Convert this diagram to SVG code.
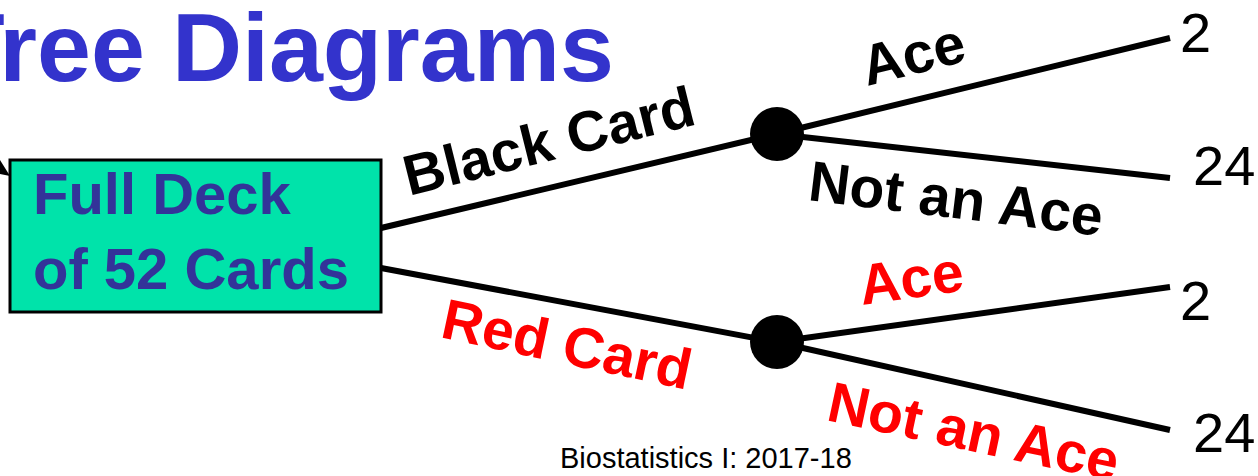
<svg xmlns="http://www.w3.org/2000/svg" width="1258" height="476" viewBox="0 0 1258 476">
<style>
.title{font-family:"Liberation Sans",Arial,sans-serif;font-weight:bold;font-size:97px;fill:#3333CC}
.box{fill:#00E3AA;stroke:#000;stroke-width:3}
.boxt{font-family:"Liberation Sans",Arial,sans-serif;font-weight:bold;font-size:58px;fill:#333399}
.lbl{font-family:"Liberation Sans",Arial,sans-serif;font-weight:bold;font-size:57px}
.blk{fill:#000}
.red{fill:#FF0000}
.num{font-family:"Liberation Sans",Arial,sans-serif;font-size:56px;fill:#000}
.foot{font-family:"Liberation Sans",Arial,sans-serif;font-size:29px;fill:#000}
.edge{stroke:#000;stroke-width:6;fill:none}
.dot{fill:#000}
</style>
<text class="title" x="614" y="81" text-anchor="end">Tree Diagrams</text>
<g id="connectors">
<line class="edge" x1="381" y1="228" x2="776" y2="134"/>
<line class="edge" x1="381" y1="268" x2="776" y2="342"/>
<line class="edge" x1="776" y1="134" x2="1170" y2="38"/>
<line class="edge" x1="776" y1="134" x2="1170" y2="178"/>
<line class="edge" x1="776" y1="342" x2="1170" y2="287"/>
<line class="edge" x1="776" y1="342" x2="1170" y2="430"/>
<polygon points="0,160 10,176 0,174" fill="#000"/>
</g>
<g id="root">
<rect class="box" x="10" y="160" width="371" height="152"/>
<text class="boxt" x="33" y="214">Full Deck</text>
<text class="boxt" x="33" y="289">of 52 Cards</text>
</g>
<g id="node-black"><circle class="dot" cx="777" cy="134" r="27"/></g>
<g id="node-red"><circle class="dot" cx="777" cy="342" r="27"/></g>
<g id="labels">
<text class="lbl blk" transform="translate(409,196) rotate(-14)">Black Card</text>
<text class="lbl red" transform="translate(439,337) rotate(12)">Red Card</text>
<text class="lbl blk" transform="translate(867,86) rotate(-14)">Ace</text>
<text class="lbl blk" transform="translate(807,200) rotate(7)">Not an Ace</text>
<text class="lbl red" transform="translate(862,305) rotate(-8)">Ace</text>
<text class="lbl red" transform="translate(825,420) rotate(12)">Not an Ace</text>
</g>
<g id="leaves">
<text class="num" x="1180" y="52">2</text>
<text class="num" x="1193" y="185">24</text>
<text class="num" x="1180" y="320">2</text>
<text class="num" x="1193" y="452">24</text>
</g>
<text class="foot" x="560" y="468">Biostatistics I: 2017-18</text>
</svg>
